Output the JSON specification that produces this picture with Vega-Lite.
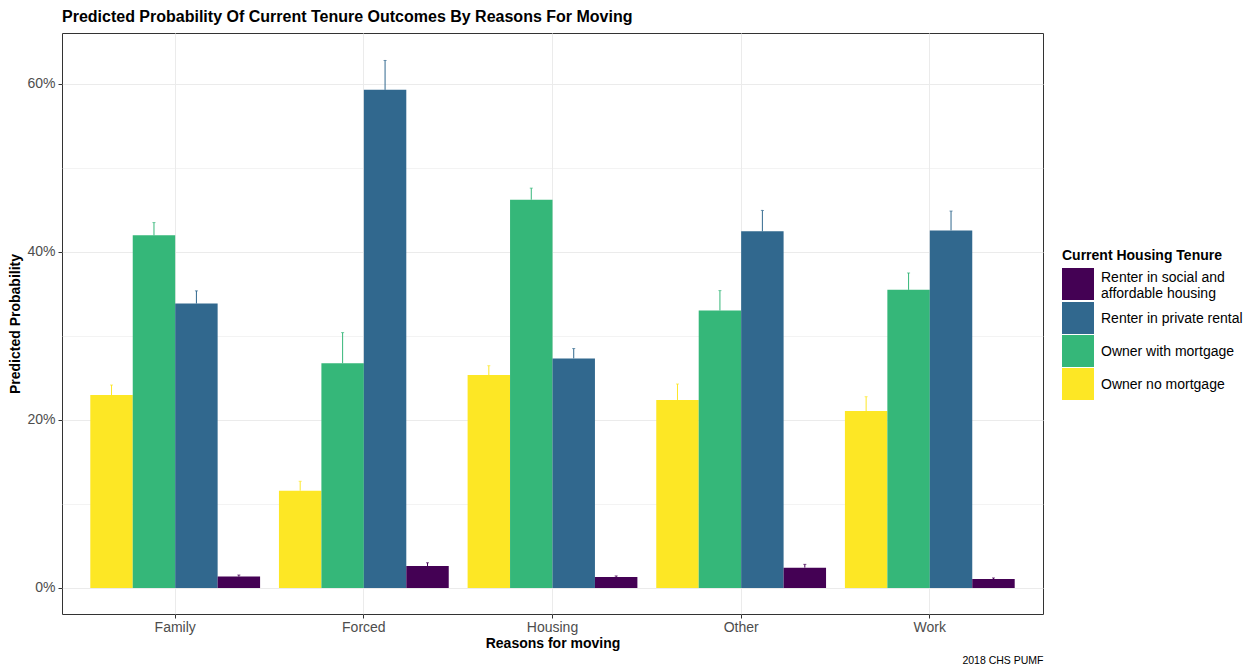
{
  "$schema": "https://vega.github.io/schema/vega-lite/v6.json",
  "width": 981,
  "height": 581,
  "autosize": {"type": "none"},
  "padding": {"left": 62, "top": 33, "right": 206, "bottom": 50},
  "background": "white",
  "config": {
    "font": "Liberation Sans",
    "view": {"stroke": "#333333", "strokeWidth": 1},
    "axis": {
      "labelFont": "Liberation Sans",
      "titleFont": "Liberation Sans",
      "labelFontSize": 14,
      "labelColor": "#4D4D4D",
      "titleFontSize": 14,
      "titleFontWeight": "bold",
      "titleColor": "black",
      "tickColor": "#333333",
      "tickSize": 4,
      "gridColor": "#EBEBEB",
      "domain": false
    }
  },
  "title": {
    "text": "Predicted Probability Of Current Tenure Outcomes By Reasons For Moving",
    "anchor": "start",
    "frame": "group",
    "font": "Liberation Sans",
    "fontSize": 16,
    "fontWeight": "bold",
    "color": "black",
    "offset": 8
  },
  "data": {
    "values": [
      {"reason": "Family", "tenure": "Owner no mortgage", "value": 0.2297, "upper": 0.2416},
      {"reason": "Family", "tenure": "Owner with mortgage", "value": 0.4198, "upper": 0.435},
      {"reason": "Family", "tenure": "Renter in private rental", "value": 0.3386, "upper": 0.3537},
      {"reason": "Family", "tenure": "Renter in social and affordable housing", "value": 0.0135, "upper": 0.0154},
      {"reason": "Forced", "tenure": "Owner no mortgage", "value": 0.1158, "upper": 0.127},
      {"reason": "Forced", "tenure": "Owner with mortgage", "value": 0.2675, "upper": 0.304},
      {"reason": "Forced", "tenure": "Renter in private rental", "value": 0.593, "upper": 0.628},
      {"reason": "Forced", "tenure": "Renter in social and affordable housing", "value": 0.026, "upper": 0.030},
      {"reason": "Housing", "tenure": "Owner no mortgage", "value": 0.2535, "upper": 0.2646},
      {"reason": "Housing", "tenure": "Owner with mortgage", "value": 0.4622, "upper": 0.476},
      {"reason": "Housing", "tenure": "Renter in private rental", "value": 0.2733, "upper": 0.285},
      {"reason": "Housing", "tenure": "Renter in social and affordable housing", "value": 0.0131, "upper": 0.0143},
      {"reason": "Other", "tenure": "Owner no mortgage", "value": 0.2238, "upper": 0.2428},
      {"reason": "Other", "tenure": "Owner with mortgage", "value": 0.3303, "upper": 0.354},
      {"reason": "Other", "tenure": "Renter in private rental", "value": 0.4246, "upper": 0.4495},
      {"reason": "Other", "tenure": "Renter in social and affordable housing", "value": 0.0242, "upper": 0.0281},
      {"reason": "Work", "tenure": "Owner no mortgage", "value": 0.2107, "upper": 0.2277},
      {"reason": "Work", "tenure": "Owner with mortgage", "value": 0.3549, "upper": 0.375},
      {"reason": "Work", "tenure": "Renter in private rental", "value": 0.4257, "upper": 0.4487},
      {"reason": "Work", "tenure": "Renter in social and affordable housing", "value": 0.0107, "upper": 0.0119}
    ]
  },
  "encoding": {
    "x": {
      "field": "reason",
      "type": "nominal",
      "scale": {"paddingInner": 0.1, "paddingOuter": 0.15},
      "axis": null
    },
    "xOffset": {
      "field": "tenure",
      "type": "nominal",
      "scale": {
        "domain": ["Owner no mortgage", "Owner with mortgage", "Renter in private rental", "Renter in social and affordable housing"],
        "paddingInner": 0,
        "paddingOuter": 0
      }
    },
    "color": {
      "field": "tenure",
      "type": "nominal",
      "scale": {
        "domain": ["Renter in social and affordable housing", "Renter in private rental", "Owner with mortgage", "Owner no mortgage"],
        "range": ["#440154", "#31688E", "#35B779", "#FDE725"]
      },
      "legend": {
        "title": "Current Housing Tenure",
        "orient": "none",
        "legendX": 1000,
        "legendY": 216,
        "symbolType": "square",
        "symbolSize": 1024,
        "symbolStrokeWidth": 0,
        "symbolOpacity": 1,
        "rowPadding": 1,
        "titleFont": "Liberation Sans",
        "titleFontSize": 14,
        "titleFontWeight": "bold",
        "titleColor": "black",
        "titlePadding": 5,
        "labelFont": "Liberation Sans",
        "labelFontSize": 14,
        "labelColor": "black",
        "labelOffset": 7,
        "labelLimit": 200,
        "labelExpr": "datum.label == 'Renter in social and affordable housing' ? ['Renter in social and', 'affordable housing'] : datum.label",
        "encode": {
          "labels": {
            "update": {
              "dy": {"signal": "datum.label == 'Renter in social and affordable housing' ? -6 : 1"}
            }
          }
        }
      }
    }
  },
  "layer": [
    {
      "mark": {"type": "bar", "opacity": 1},
      "encoding": {
        "x": {
          "field": "reason",
          "type": "nominal",
          "scale": {"paddingInner": 0.1, "paddingOuter": 0.15},
          "axis": {
            "title": "Reasons for moving",
            "labelAngle": 0,
            "labelPadding": 2,
            "titlePadding": 2,
            "grid": true,
            "gridWidth": 1
          }
        },
        "y": {
          "field": "value",
          "type": "quantitative",
          "scale": {"domain": [-0.031, 0.6607], "nice": false, "zero": false},
          "axis": {
            "title": "Predicted Probability",
            "values": [0, 0.2, 0.4, 0.6],
            "format": ".0%",
            "grid": true,
            "gridWidth": 1,
            "labelPadding": 3,
            "titlePadding": 4
          }
        },
        "y2": {"datum": 0}
      }
    },
    {
      "mark": {"type": "rule", "strokeWidth": 1},
      "encoding": {
        "y": {
          "field": "value",
          "type": "quantitative",
          "axis": {
            "orient": "right",
            "values": [0.1, 0.3, 0.5],
            "grid": true,
            "gridWidth": 0.6,
            "labels": false,
            "ticks": false,
            "domain": false,
            "title": null
          }
        },
        "y2": {"field": "upper"}
      }
    },
    {
      "mark": {"type": "tick", "size": 3, "thickness": 1},
      "encoding": {
        "x": {
          "field": "reason",
          "type": "nominal",
          "axis": {
            "orient": "bottom",
            "title": "2018 CHS PUMF",
            "titleAnchor": "end",
            "titleFontSize": 10.5,
            "titleFontWeight": "normal",
            "titleColor": "black",
            "titlePadding": 41,
            "labels": false,
            "ticks": false,
            "domain": false,
            "grid": false
          }
        },
        "y": {"field": "upper", "type": "quantitative", "axis": null}
      }
    }
  ],
  "resolve": {"axis": {"x": "independent", "y": "independent"}}
}
